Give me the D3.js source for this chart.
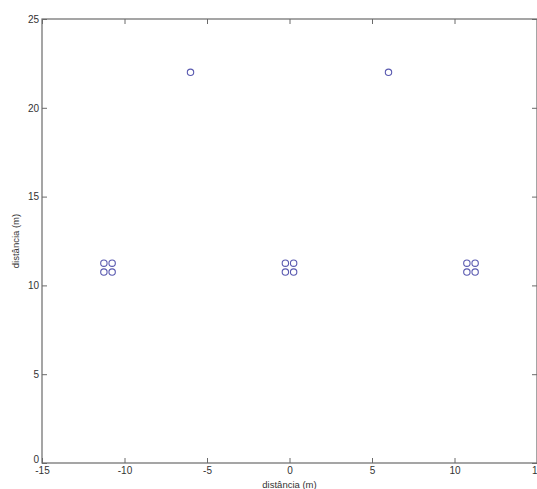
<!DOCTYPE html>
<html>
<head>
<meta charset="utf-8">
<script src="https://cdn.jsdelivr.net/npm/d3@7"></script>
<style>
  body { margin: 0; background: #fff; }
  text { font-family: "Liberation Sans", Arial, sans-serif; }
</style>
</head>
<body>
<div id="chart"></div>
<script>
// data
const pointsX = [-6, 6, -11.25, -10.75, -11.25, -10.75, -0.25, 0.25, -0.25, 0.25, 10.75, 11.25, 10.75, 11.25];
const pointsY = [22, 22, 11.25, 11.25, 10.75, 10.75, 11.25, 11.25, 10.75, 10.75, 11.25, 11.25, 10.75, 10.75];
const xTicks = [-15, -10, -5, 0, 5, 10, 15];
const yTicks = [0, 5, 10, 15, 20, 25];
const xLabel = "distância (m)";
const yLabel = "distância (m)";

// set the dimensions and margins of the graph
const margin = {top: 19, right: 0, bottom: 26, left: 42},
  width = 537 - margin.left - margin.right,
  height = 489 - margin.top - margin.bottom;

const svg = d3.select("#chart")
  .append("svg")
  .attr("width", 537)
  .attr("height", 489)
  .append("g")
  .attr("transform", `translate(${margin.left},${margin.top})`);

const x = d3.scaleLinear().domain([-15, 15]).range([0, width]);
const y = d3.scaleLinear().domain([0, 25]).range([height, 0]);

const axisColor = "#6a6a6a";
const textColor = "#333";
const plain = d => String(d); // hyphen minus like the original

// frame
svg.append("rect")
  .attr("x", 0).attr("y", 0)
  .attr("width", width).attr("height", height)
  .attr("fill", "none")
  .attr("stroke", axisColor)
  .attr("stroke-width", 1.2);

// bottom axis, ticks inside
const gx = svg.append("g")
  .attr("transform", `translate(0,${height})`)
  .call(d3.axisBottom(x).tickValues(xTicks).tickSize(-5).tickPadding(4).tickFormat(plain));
// top ticks
const gxt = svg.append("g")
  .call(d3.axisTop(x).tickValues(xTicks).tickSize(-5).tickFormat(""));
// left axis
const gy = svg.append("g")
  .call(d3.axisLeft(y).tickValues(yTicks).tickSize(-5).tickPadding(3).tickFormat(plain));
// right ticks
const gyr = svg.append("g")
  .attr("transform", `translate(${width},0)`)
  .call(d3.axisRight(y).tickValues(yTicks).tickSize(-5).tickFormat(""));

[gx, gxt, gy, gyr].forEach(g => {
  g.select(".domain").remove();
  g.selectAll(".tick line").attr("stroke", axisColor);
  g.selectAll("text")
    .attr("fill", textColor)
    .style("font-size", "10px");
});
gy.selectAll(".tick text").filter(d => d === 0).attr("dy", "-0.1em");

// axis labels
svg.append("text")
  .attr("x", x(0))
  .attr("y", height + 25)
  .attr("text-anchor", "middle")
  .attr("fill", textColor)
  .style("font-size", "9.5px")
  .text(xLabel);

svg.append("text")
  .attr("transform", `translate(-23,${y(12.5)}) rotate(-90)`)
  .attr("text-anchor", "middle")
  .attr("fill", textColor)
  .style("font-size", "9.5px")
  .text(yLabel);

// markers
svg.append("g")
  .selectAll("circle")
  .data(pointsX.map((d, i) => ({x: d, y: pointsY[i]})))
  .join("circle")
  .attr("cx", d => x(d.x))
  .attr("cy", d => y(d.y))
  .attr("r", 3.2)
  .attr("fill", "none")
  .attr("stroke", "#5a5ab0")
  .attr("stroke-width", 1.1);
</script>
</body>
</html>
